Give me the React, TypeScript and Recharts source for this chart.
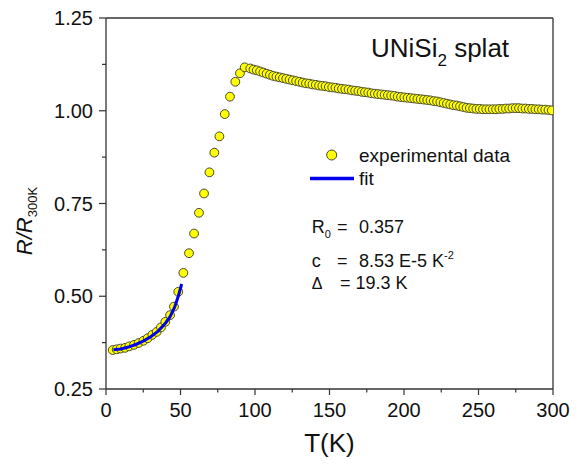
import { ComposedChart, Scatter, XAxis, YAxis, ReferenceLine } from 'recharts'

// measured points, T in K, R/R300K
const temps = [
  4.5, 7.2, 9.8, 12.8, 15.6, 18.8, 21.9, 25.1, 28.0, 31.1, 34.0, 36.9, 39.8, 43.0, 45.6, 48.5,
  51.9, 55.7, 59.1, 62.4, 65.8, 69.4, 72.7, 76.1, 79.7, 83.2, 86.8, 89.9, 93.1,
  96.8, 99.0, 101.2, 103.4, 105.6, 107.8, 110.0, 112.2, 114.4, 116.6, 118.8, 121.0, 123.2, 125.4,
  127.6, 129.8, 132.0, 134.2, 136.4, 138.6, 140.8, 143.0, 145.2, 147.4, 149.6, 151.8, 154.0, 156.2,
  158.4, 160.6, 162.8, 165.0, 167.2, 169.4, 171.6, 173.8, 176.0, 178.2, 180.4, 182.6, 184.8, 187.0,
  189.2, 191.4, 193.6, 195.8, 198.0, 200.2, 202.4, 204.6, 206.8, 209.0, 211.2, 213.4, 215.6, 217.8,
  220.0, 222.2, 224.4, 226.6, 228.8, 231.0, 233.2, 235.4, 237.6, 239.8, 242.0, 244.2, 246.4, 248.6,
  250.8, 253.0, 255.2, 257.4, 259.6, 261.8, 264.0, 266.2, 268.4, 270.6, 272.8, 275.0, 277.2, 279.4,
  281.6, 283.8, 286.0, 288.2, 290.4, 292.6, 294.8, 297.0, 299.2,
]
const ratio = [
  0.355, 0.357, 0.359, 0.361, 0.365, 0.369, 0.374, 0.380, 0.387, 0.396, 0.404, 0.416, 0.431, 0.449, 0.472, 0.512,
  0.563, 0.616, 0.669, 0.725, 0.777, 0.834, 0.887, 0.931, 0.991, 1.038, 1.078, 1.101, 1.117,
  1.114, 1.111, 1.109, 1.106, 1.103, 1.100, 1.097, 1.094, 1.092, 1.090, 1.088, 1.086, 1.084, 1.082,
  1.080, 1.078, 1.076, 1.074, 1.073, 1.071, 1.070, 1.068, 1.067, 1.066, 1.064, 1.063, 1.062, 1.060,
  1.059, 1.058, 1.057, 1.055, 1.054, 1.053, 1.051, 1.050, 1.049, 1.047, 1.046, 1.045, 1.044, 1.043,
  1.042, 1.041, 1.040, 1.038, 1.037, 1.036, 1.035, 1.034, 1.033, 1.032, 1.031, 1.030, 1.029, 1.028,
  1.026, 1.025, 1.023, 1.021, 1.019, 1.017, 1.015, 1.014, 1.012, 1.010, 1.008, 1.007, 1.006, 1.005,
  1.005, 1.004, 1.004, 1.004, 1.004, 1.004, 1.005, 1.005, 1.006, 1.006, 1.007, 1.007, 1.007, 1.006,
  1.006, 1.005, 1.005, 1.004, 1.004, 1.003, 1.003, 1.002, 1.001,
]

// fit curve
const fitTemps = [5, 10, 15, 20, 25, 30, 35, 40, 43, 46, 48.5, 50.8]
const fitRatio = [0.356, 0.358, 0.363, 0.370, 0.379, 0.391, 0.406, 0.428, 0.445, 0.470, 0.500, 0.533]

const xTicks = [0, 25, 50, 75, 100, 125, 150, 175, 200, 225, 250, 275, 300]
const yTicks = [0.25, 0.375, 0.5, 0.625, 0.75, 0.875, 1.0, 1.125, 1.25]

const measured = temps.map((t, i) => ({ t, r: ratio[i] }))
const fit = fitTemps.map((t, i) => ({ t, r: fitRatio[i] }))

const FONT = 'Arial, "Liberation Sans", sans-serif'
const AXIS = '#333'

const XTick = ({ x, y, payload }: any) => {
  const major = payload.value % 50 === 0
  return (
    <g>
      <line x1={x} x2={x} y1={y} y2={y + (major ? 6 : 3.5)} stroke={AXIS} strokeWidth={1.2} />
      {major && (
        <text x={x} y={y + 28} textAnchor="middle" fontSize={20} fontFamily={FONT} fill="#111">
          {payload.value}
        </text>
      )}
    </g>
  )
}

const YTick = ({ x, y, payload }: any) => {
  const major = Math.round(payload.value * 1000) % 250 === 0
  return (
    <g>
      <line x1={x} x2={x - (major ? 7 : 4)} y1={y} y2={y} stroke={AXIS} strokeWidth={1.2} />
      {major && (
        <text x={x - 13} y={y + 7} textAnchor="end" fontSize={20} fontFamily={FONT} fill="#111">
          {payload.value.toFixed(2)}
        </text>
      )}
    </g>
  )
}

const Dot = ({ cx, cy }: any) => (
  <circle cx={cx} cy={cy} r={4.4} fill="#ffff00" stroke="#4a4a2e" strokeWidth={1} />
)

const NoDot = () => <g />

export default function App() {
  return (
    <div style={{ position: 'absolute', left: 0, top: 0, width: 582, height: 465, background: '#fff' }}>
      <ComposedChart width={582} height={465} margin={{ top: 18, right: 29, bottom: 36, left: 46 }}>
        <XAxis
          dataKey="t"
          type="number"
          domain={[0, 300]}
          ticks={xTicks}
          interval={0}
          height={40}
          tickSize={0}
          tickMargin={0}
          tickLine={false}
          tick={<XTick />}
          axisLine={{ stroke: AXIS, strokeWidth: 1.3 }}
          allowDataOverflow
        />
        <YAxis
          dataKey="r"
          type="number"
          domain={[0.25, 1.25]}
          ticks={yTicks}
          interval={0}
          width={60}
          tickSize={0}
          tickMargin={0}
          tickLine={false}
          tick={<YTick />}
          axisLine={{ stroke: AXIS, strokeWidth: 1.3 }}
          allowDataOverflow
        />
        <ReferenceLine y={1.25} stroke={AXIS} strokeWidth={1.3} />
        <ReferenceLine x={300} stroke={AXIS} strokeWidth={1.3} />
        <Scatter data={measured} dataKey="r" shape={<Dot />} isAnimationActive={false} />
        <Scatter
          data={fit}
          dataKey="r"
          shape={<NoDot />}
          line={{ stroke: '#0000ee', strokeWidth: 3 }}
          lineType="joint"
          isAnimationActive={false}
        />
      </ComposedChart>

      <svg
        width={582}
        height={465}
        style={{ position: 'absolute', left: 0, top: 0, pointerEvents: 'none' }}
        fontFamily={FONT}
        fill="#111"
      >
        <text transform="translate(32,221) rotate(-90)" textAnchor="middle" fontSize={22}>
          <tspan fontStyle="italic">R/R</tspan>
          <tspan fontSize={13} dy={5}>300K</tspan>
        </text>
        <text x={329.5} y={452} textAnchor="middle" fontSize={26}>T(K)</text>

        <text x={371} y={57} fontSize={26}>
          UNiSi<tspan fontSize={17} dy={9}>2</tspan>
          <tspan dy={-9}> splat</tspan>
        </text>

        <circle cx={331.7} cy={155} r={5} fill="#ffff00" stroke="#4a4a2e" strokeWidth={1} />
        <text x={359} y={162} fontSize={19}>experimental data</text>
        <line x1={310} x2={354} y1={178.5} y2={178.5} stroke="#0000ee" strokeWidth={3.5} />
        <text x={359} y={185} fontSize={19}>fit</text>

        <text x={311.7} y={233} fontSize={18}>
          R<tspan fontSize={11} dy={5}>0</tspan>
        </text>
        <text x={337} y={233} fontSize={18}>=</text>
        <text x={359} y={233} fontSize={18}>0.357</text>

        <text x={311.7} y={266.7} fontSize={18}>c</text>
        <text x={337} y={266.7} fontSize={18}>=</text>
        <text x={359} y={266.7} fontSize={18}>
          8.53 E-5 K<tspan fontSize={11} dy={-8}>-2</tspan>
        </text>

        <text x={311.7} y={288.5} fontSize={16}>Δ</text>
        <text x={340} y={288.5} fontSize={18}>= 19.3 K</text>
      </svg>
    </div>
  )
}
